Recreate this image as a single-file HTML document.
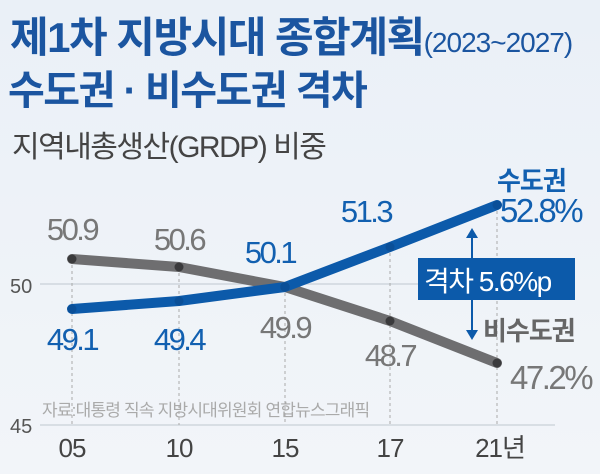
<!DOCTYPE html><html><head><meta charset="utf-8"><style>
body{margin:0;width:600px;height:474px;overflow:hidden;background:linear-gradient(#eaf0f7,#f2f5f9);font-family:"Liberation Sans","Noto Sans CJK KR",sans-serif}
</style></head><body>
<svg width="600" height="474" xmlns="http://www.w3.org/2000/svg" style="position:absolute;left:0;top:0;font-family:'Liberation Sans','Noto Sans CJK KR',sans-serif">
<text x="10" y="52" font-size="42" font-weight="bold" fill="#1b55a0" letter-spacing="-1.5">제1차 지방시대 종합계획<tspan font-size="28" font-weight="normal" letter-spacing="-1">(2023~2027)</tspan></text>
<text x="8" y="104" font-size="40" font-weight="bold" fill="#1b55a0" letter-spacing="-1.5">수도권 · 비수도권 격차</text>
<text x="12" y="157" font-size="30" fill="#444" letter-spacing="-1.5">지역내총생산(GRDP) 비중</text>
<line x1="40" y1="284" x2="555" y2="284" stroke="#cfd6de" stroke-width="1.5"/>
<line x1="40" y1="425" x2="555" y2="425" stroke="#cfd6de" stroke-width="1.5"/>
<g stroke="#aaa" stroke-dasharray="3,3" stroke-width="1">
<line x1="72" y1="259" x2="72" y2="425"/><line x1="179" y1="267" x2="179" y2="425"/><line x1="285" y1="287" x2="285" y2="425"/><line x1="390" y1="247" x2="390" y2="425"/><line x1="497" y1="205" x2="497" y2="425"/></g>
<text x="10" y="293" font-size="20" fill="#555">50</text>
<text x="10" y="433" font-size="20" fill="#555">45</text>
<polyline points="72,259 179,267 285,287 390,321 497,363" fill="none" stroke="#6e6e70" stroke-width="10" stroke-linecap="round" stroke-linejoin="round"/>
<polyline points="72,309 179,301 285,287 390,247 497,205" fill="none" stroke="#0c5aaa" stroke-width="10" stroke-linecap="round" stroke-linejoin="round"/>
<g fill="#3a3a3c"><circle cx="72" cy="259" r="4.5"/><circle cx="179" cy="267" r="4.5"/><circle cx="285" cy="287" r="4.5"/><circle cx="390" cy="321" r="4.5"/><circle cx="497" cy="363" r="4.5"/></g>
<g fill="#0a4f98"><circle cx="72" cy="309" r="4.5"/><circle cx="179" cy="301" r="4.5"/><circle cx="285" cy="287" r="4.5"/><circle cx="390" cy="247" r="4.5"/><circle cx="497" cy="205" r="4.5"/></g>
<g font-size="31" fill="#777" letter-spacing="-2.5" text-anchor="middle">
<text x="72" y="240">50.9</text><text x="179" y="250">50.6</text><text x="285" y="338">49.9</text><text x="390" y="366">48.7</text></g>
<g font-size="31" fill="#1260b0" letter-spacing="-2.5" text-anchor="middle">
<text x="72" y="350">49.1</text><text x="179" y="350">49.4</text><text x="270" y="263">50.1</text><text x="366" y="222">51.3</text></g>
<text x="497" y="190" font-size="26" font-weight="bold" fill="#1260b0" letter-spacing="-1">수도권</text>
<text x="500" y="222" font-size="33" fill="#1260b0" letter-spacing="-2.5">52.8%</text>
<text x="483" y="340" font-size="26" font-weight="bold" fill="#666" letter-spacing="-1">비수도권</text>
<text x="510" y="389" font-size="33" fill="#777" letter-spacing="-2.5">47.2%</text>
<line x1="472" y1="236" x2="472" y2="332" stroke="#0c5aaa" stroke-width="2"/>
<polygon points="466,238 478,238 472,228" fill="#0c5aaa"/><polygon points="466,330 478,330 472,340" fill="#0c5aaa"/>
<rect x="418" y="258" width="157" height="42" fill="#0c5aaa"/>
<text x="424" y="291" font-size="28" fill="#fff" letter-spacing="-1.5">격차 5.6%p</text>
<text x="42" y="416" font-size="17" fill="#aaa" letter-spacing="-0.8">자료:대통령 직속 지방시대위원회  연합뉴스그래픽</text>
<g font-size="26" fill="#444" text-anchor="middle" letter-spacing="-1"><text x="72" y="457">05</text><text x="179" y="457">10</text><text x="285" y="457">15</text><text x="390" y="457">17</text><text x="500" y="457">21년</text></g>
</svg></body></html>
